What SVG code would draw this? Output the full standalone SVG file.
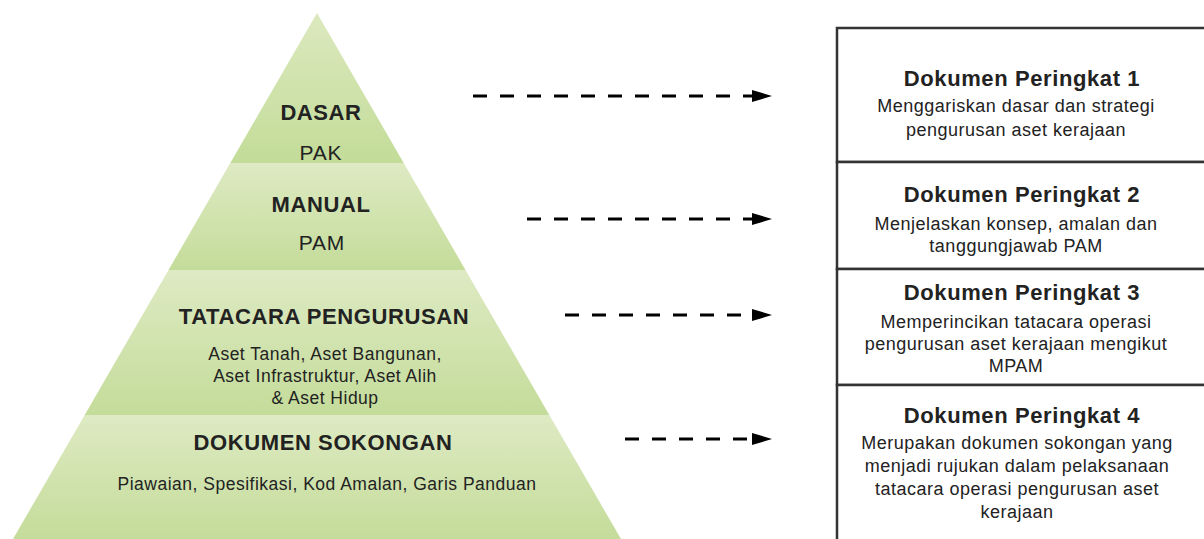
<svg xmlns="http://www.w3.org/2000/svg" width="1204" height="539" viewBox="0 0 1204 539">
  <defs>
    <linearGradient id="bandTop" x1="0" y1="0" x2="0" y2="1">
      <stop offset="0" stop-color="#dce9bf"/>
      <stop offset="1" stop-color="#c3dc98"/>
    </linearGradient>
    <linearGradient id="band" x1="0" y1="0" x2="0" y2="1">
      <stop offset="0" stop-color="#deeac3"/>
      <stop offset="1" stop-color="#c4dc9a"/>
    </linearGradient>
    <marker id="head" markerWidth="20" markerHeight="12" refX="0" refY="6" orient="auto" markerUnits="userSpaceOnUse">
      <path d="M0,0 L20,6 L0,12 Z" fill="#000"/>
    </marker>
  </defs>
  <style>
    .title { font-family: "Liberation Sans", Arial, sans-serif; font-weight: bold; fill: #222; text-anchor: middle; }
    .body { font-family: "Liberation Sans", Arial, sans-serif; fill: #222; text-anchor: middle; }
    .lvl { font-size: 22px; letter-spacing: 0.6px; }
    .lvlsub { font-size: 21px; letter-spacing: 0.8px; }
    .small { font-size: 17.5px; letter-spacing: 0.5px; }
    .box { fill: #fff; stroke: #333; stroke-width: 2.5; }
    .boxtitle { font-size: 22px; letter-spacing: 0.6px; }
    .boxtext { font-size: 18px; letter-spacing: 0.5px; }
    .arrow { fill: none; stroke: #000; stroke-width: 3; stroke-dasharray: 14 13; marker-end: url(#head); }
  </style>

  <rect width="1204" height="539" fill="#fff"/>

  <!-- pyramid levels -->
  <g id="level-dasar">
    <polygon points="317,13 403.7,163 230.3,163" fill="url(#bandTop)"/>
    <text class="title lvl" x="321" y="120">DASAR</text>
    <text class="body lvlsub" x="321" y="160">PAK</text>
  </g>
  <g id="level-manual">
    <polygon points="230.3,163 403.7,163 465.5,270 168.5,270" fill="url(#band)"/>
    <text class="title lvl" x="321" y="212">MANUAL</text>
    <text class="body lvlsub" x="322" y="250">PAM</text>
  </g>
  <g id="level-tatacara">
    <polygon points="168.5,270 465.5,270 549.3,415 84.7,415" fill="url(#band)"/>
    <text class="title lvl" x="324" y="324">TATACARA PENGURUSAN</text>
    <text class="body small" x="325" y="360">Aset Tanah, Aset Bangunan,</text>
    <text class="body small" x="325" y="382">Aset Infrastruktur, Aset Alih</text>
    <text class="body small" x="325" y="404">&amp; Aset Hidup</text>
  </g>
  <g id="level-sokongan">
    <polygon points="84.7,415 549.3,415 621,539 13,539" fill="url(#band)"/>
    <text class="title lvl" x="323" y="450">DOKUMEN SOKONGAN</text>
    <text class="body small" x="327" y="490">Piawaian, Spesifikasi, Kod Amalan, Garis Panduan</text>
  </g>

  <!-- document levels -->
  <g id="doc-1">
    <rect class="box" x="837" y="28" width="400" height="134"/>
    <text class="title boxtitle" x="1022" y="86">Dokumen Peringkat 1</text>
    <text class="body boxtext" x="1016" y="112">Menggariskan dasar dan strategi</text>
    <text class="body boxtext" x="1016" y="136">pengurusan aset kerajaan</text>
  </g>
  <g id="doc-2">
    <rect class="box" x="837" y="162" width="400" height="107"/>
    <text class="title boxtitle" x="1022" y="202">Dokumen Peringkat 2</text>
    <text class="body boxtext" x="1016" y="230">Menjelaskan konsep, amalan dan</text>
    <text class="body boxtext" x="1016" y="252">tanggungjawab PAM</text>
  </g>
  <g id="doc-3">
    <rect class="box" x="837" y="269" width="400" height="116"/>
    <text class="title boxtitle" x="1022" y="300">Dokumen Peringkat 3</text>
    <text class="body boxtext" x="1016" y="328">Memperincikan tatacara operasi</text>
    <text class="body boxtext" x="1016" y="350">pengurusan aset kerajaan mengikut</text>
    <text class="body boxtext" x="1016" y="372">MPAM</text>
  </g>
  <g id="doc-4">
    <rect class="box" x="837" y="385" width="400" height="180"/>
    <text class="title boxtitle" x="1022" y="423">Dokumen Peringkat 4</text>
    <text class="body boxtext" x="1017" y="449">Merupakan dokumen sokongan yang</text>
    <text class="body boxtext" x="1017" y="472">menjadi rujukan dalam pelaksanaan</text>
    <text class="body boxtext" x="1017" y="495">tatacara operasi pengurusan aset</text>
    <text class="body boxtext" x="1017" y="518">kerajaan</text>
  </g>

  <!-- connectors -->
  <g id="connectors">
    <line class="arrow" x1="473" y1="96" x2="752" y2="96"/>
    <line class="arrow" x1="527" y1="219" x2="752" y2="219"/>
    <line class="arrow" x1="565" y1="315" x2="752" y2="315"/>
    <line class="arrow" x1="625" y1="439" x2="752" y2="439"/>
  </g>
</svg>
